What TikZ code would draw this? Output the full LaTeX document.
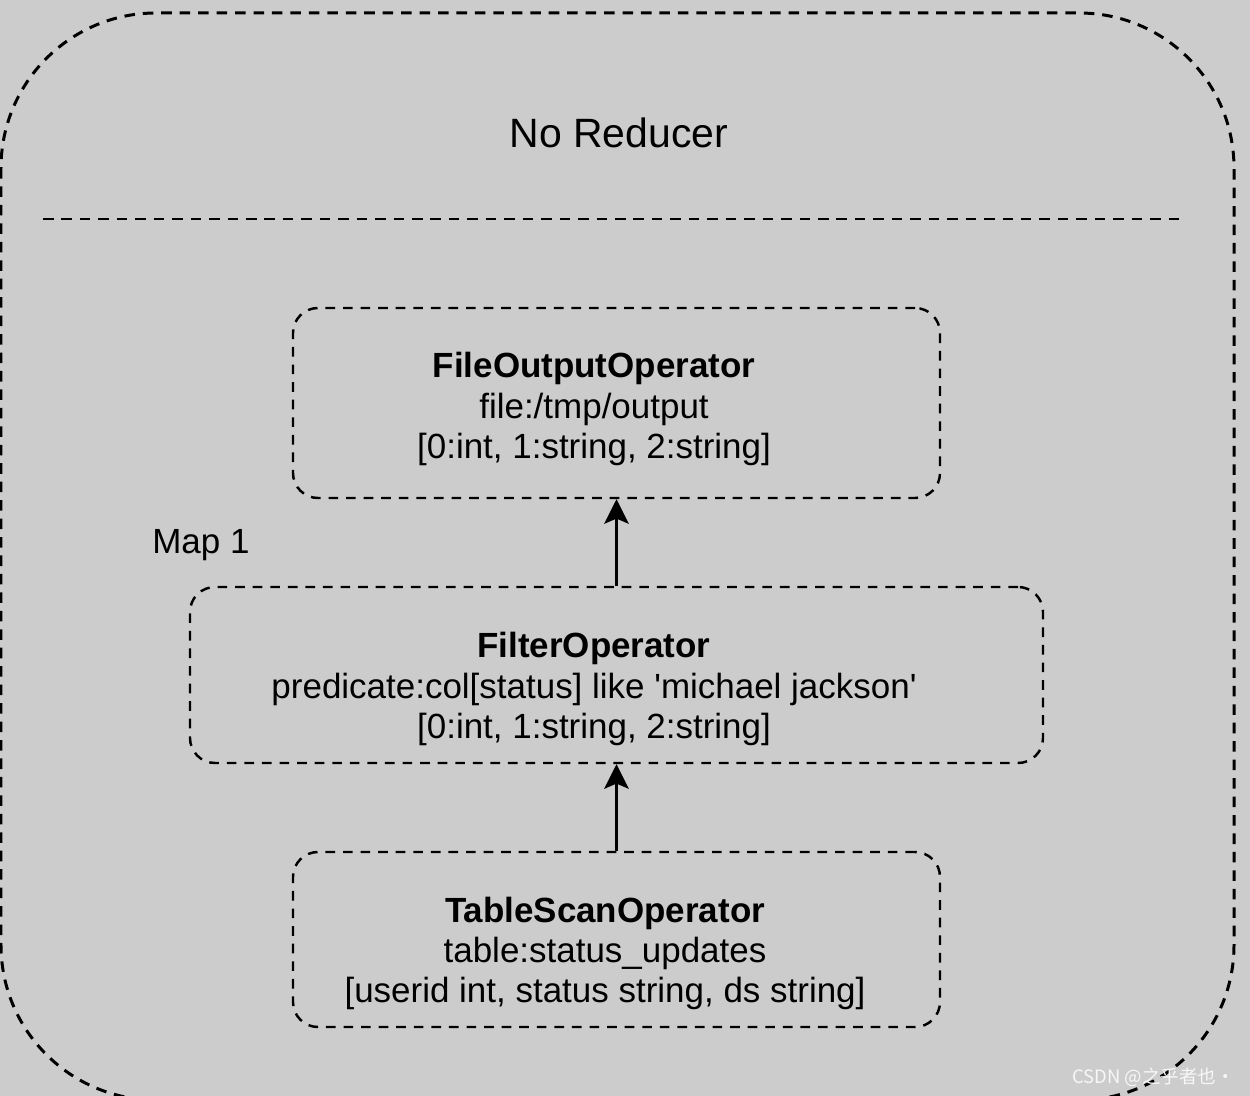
\documentclass[tikz,border=0pt]{standalone}
\usepackage{fontspec}
\setmainfont{Liberation Sans}
\newfontfamily\cjk{Noto Sans CJK SC}
\usepackage{tikz}
\usetikzlibrary{arrows.meta,positioning}
\definecolor{bggray}{RGB}{204,204,204}
\tikzset{
  outerbox/.style={ draw, line width=1.7pt, dash pattern=on 6pt off 4.5pt }
}
\tikzset{
  opbox/.style={ draw, line width=1.4pt, dash pattern=on 5.5pt off 4.5pt,
    rounded corners=0.5cm }
}
\tikzset{
  optext/.style={ align=center, inner sep=0pt,
    font=\fontsize{19.9pt}{23pt}\selectfont }
}
\tikzset{
  uparrow/.style={ -{Stealth[length=14pt, width=14pt, inset=3pt]}, line width=1.2pt }
}

\begin{document}
\begin{tikzpicture}[y=1cm, x=1cm]
      \useasboundingbox[fill=bggray] (0,0) rectangle (25,-21.92);
      \clip (0,0) rectangle (25,-21.92);
      \draw[outerbox, rounded corners=3.1cm] (0.02,-0.26) rectangle (24.68,-22.0);
      \node[font=\fontsize{23.3pt}{27pt}\selectfont] (title) at (12.38,-2.66) {No Reducer};
      \draw[outerbox] (0.86,-4.38) -- (23.64,-4.38);
      % operator boxes
      \node[opbox, minimum width=12.94cm, minimum height=3.8cm] (fileout) at (12.33,-8.06) {};
      \node[opbox, minimum width=17.06cm, minimum height=3.52cm] (filter) at (12.33,-13.5) {};
      \node[opbox, minimum width=12.94cm, minimum height=3.5cm] (tablescan) at (12.33,-18.79) {};
      % their texts
      \node[optext] (fileoutText) at ([xshift=-0.45cm, yshift=-0.12cm]fileout.center)
        {\textbf{FileOutputOperator}\\file:/tmp/output\\{}[0:int, 1:string, 2:string]};
      \node[optext] (filterText) at ([xshift=-0.45cm, yshift=-0.28cm]filter.center)
        {\textbf{FilterOperator}\\predicate:col[status] like \textquotesingle michael jackson\textquotesingle\\{}[0:int, 1:string, 2:string]};
      \node[optext] (tablescanText) at ([xshift=-0.23cm, yshift=-0.28cm]tablescan.center)
        {\textbf{TableScanOperator}\\table:status\_updates\\{}[userid int, status string, ds string]};
      \node[anchor=west, inner sep=0pt, font=\fontsize{19.9pt}{23pt}\selectfont] (map) at (3.04,-10.9) {Map 1};
      \draw[uparrow] (filter.north) -- (fileout.south);
      \draw[uparrow] (tablescan.north) -- (filter.south);
      \node[anchor=east, inner sep=0pt, text=white!85!bggray, font=\cjk\fontsize{10.5pt}{13pt}\selectfont] (mark) at (24.7,-21.54) {CSDN @之乎者也·};
    \end{tikzpicture}
\end{document}
